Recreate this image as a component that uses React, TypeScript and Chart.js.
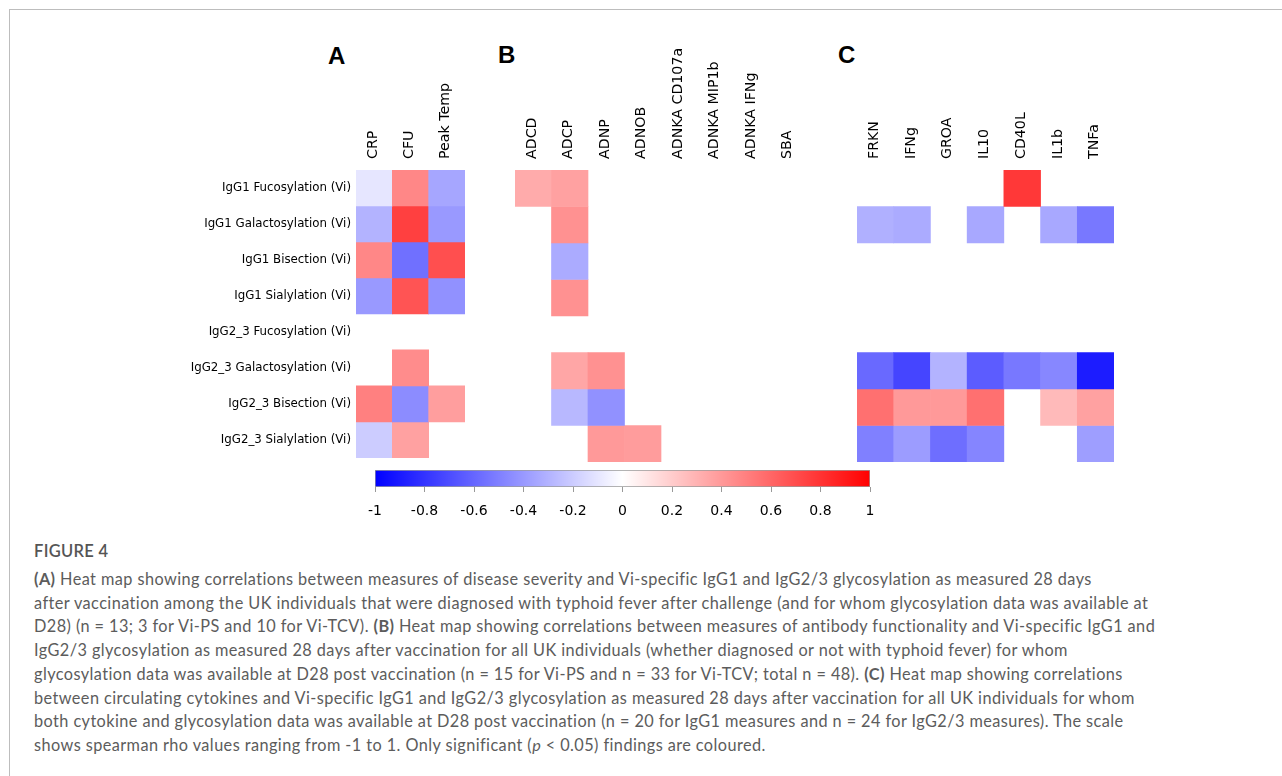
import React, { useEffect, useRef } from "react";
import { Chart, registerables } from "chart.js";

Chart.register(...registerables);

// ---------------- DATA ----------------
const rowLabels = [
  "IgG1 Fucosylation (Vi)",
  "IgG1 Galactosylation (Vi)",
  "IgG1 Bisection (Vi)",
  "IgG1 Sialylation (Vi)",
  "IgG2_3 Fucosylation (Vi)",
  "IgG2_3 Galactosylation (Vi)",
  "IgG2_3 Bisection (Vi)",
  "IgG2_3 Sialylation (Vi)",
];

const colsA = ["CRP", "CFU", "Peak Temp"];
const colsB = ["ADCD", "ADCP", "ADNP", "ADNOB", "ADNKA CD107a", "ADNKA MIP1b", "ADNKA IFNg", "SBA"];
const colsC = ["FRKN", "IFNg", "GROA", "IL10", "CD40L", "IL1b", "TNFa"];

const N = null;
// Spearman rho (null = not significant)
const rhoA: (number | null)[][] = [
  [-0.1, 0.47, -0.35],
  [-0.3, 0.75, -0.4],
  [0.47, -0.56, 0.69],
  [-0.4, 0.67, -0.43],
  [N, N, N],
  [N, 0.45, N],
  [0.5, -0.45, 0.38],
  [-0.2, 0.37, N],
];

const rhoB: (number | null)[][] = [
  [0.33, 0.37, N, N, N, N, N, N],
  [N, 0.43, N, N, N, N, N, N],
  [N, -0.33, N, N, N, N, N, N],
  [N, 0.43, N, N, N, N, N, N],
  [N, N, N, N, N, N, N, N],
  [N, 0.35, 0.43, N, N, N, N, N],
  [N, -0.28, -0.43, N, N, N, N, N],
  [N, N, 0.4, 0.39, N, N, N, N],
];

const rhoC: (number | null)[][] = [
  [N, N, N, N, 0.78, N, N],
  [-0.31, -0.33, N, -0.34, N, -0.34, -0.53],
  [N, N, N, N, N, N, N],
  [N, N, N, N, N, N, N],
  [N, N, N, N, N, N, N],
  [-0.59, -0.73, -0.3, -0.64, -0.53, -0.47, -0.89],
  [0.56, 0.4, 0.4, 0.56, N, 0.27, 0.37],
  [-0.5, -0.39, -0.57, -0.48, N, N, -0.38],
];

const colorbarTicks = [-1, -0.8, -0.6, -0.4, -0.2, 0, 0.2, 0.4, 0.6, 0.8, 1];
const colorbarRange = [-1, 1];

const captionTitle = "FIGURE 4";

// ---------------- HELPERS ----------------
function bwr(v: number | null): string {
  if (v === null || v === undefined) return "rgba(255,255,255,0)";
  const c = Math.max(-1, Math.min(1, v));
  if (c < 0) {
    const t = Math.round(255 * (1 + c));
    return `rgb(${t},${t},255)`;
  }
  const t = Math.round(255 * (1 - c));
  return `rgb(255,${t},${t})`;
}

type Box = { left: number; top: number; width: number; height: number };
type Area = { left: number; right: number; top: number; bottom: number };

const labelFont = "'DejaVu Sans', 'Liberation Sans', sans-serif";

function Heatmap({ cols, rho, showRows, box, area }: { cols: string[]; rho: (number | null)[][]; showRows: boolean; box: Box; area: Area }) {
  const ref = useRef<HTMLCanvasElement | null>(null);
  useEffect(() => {
    if (!ref.current) return;
    const yWidth = showRows ? area.left - box.left : 0;
    const padLeft = showRows ? 0 : area.left - box.left;
    const padRight = box.left + box.width - area.right;
    const xHeight = area.top - box.top;
    const padBottom = box.top + box.height - area.bottom;
    const datasets = rowLabels.map((r, i) => ({
      label: r,
      data: cols.map(() => 1),
      rho: rho[i],
      backgroundColor: cols.map((_, j) => bwr(rho[i][j])),
      borderWidth: 0,
      barPercentage: 1,
      categoryPercentage: 1,
    }));
    const chart = new Chart(ref.current, {
      type: "bar",
      data: { labels: cols, datasets: datasets as any },
      options: {
        animation: false,
        responsive: false,
        maintainAspectRatio: false,
        layout: { padding: { left: padLeft, right: padRight, top: 0, bottom: padBottom } },
        plugins: { legend: { display: false }, tooltip: { enabled: false } },
        scales: {
          x: {
            position: "top",
            stacked: true,
            grid: { display: false, drawTicks: false },
            border: { display: false },
            ticks: {
              autoSkip: false,
              minRotation: 90,
              maxRotation: 90,
              padding: 11,
              labelOffset: 16,
              color: "#000",
              font: { family: labelFont, size: 14.2 },
            },
            afterFit: (s: any) => {
              s.height = xHeight;
            },
          },
          y: {
            display: showRows,
            stacked: true,
            min: 0,
            max: rowLabels.length,
            reverse: true,
            grid: { display: false, drawTicks: false },
            border: { display: false },
            afterBuildTicks: (ax: any) => {
              ax.ticks = rowLabels.map((_, i) => ({ value: i + 0.5 }));
            },
            ticks: {
              autoSkip: false,
              padding: 5,
              color: "#000",
              font: { family: labelFont, size: 11.8 },
              callback: (_v: any, i: number) => rowLabels[i],
            },
            afterFit: (s: any) => {
              s.width = yWidth;
            },
          },
        },
      } as any,
    });
    return () => chart.destroy();
  }, []);
  return (
    <canvas
      ref={ref}
      width={box.width}
      height={box.height}
      style={{ position: "absolute", left: box.left, top: box.top, width: box.width, height: box.height }}
    />
  );
}

function Colorbar({ box, area }: { box: Box; area: Area }) {
  const ref = useRef<HTMLCanvasElement | null>(null);
  useEffect(() => {
    if (!ref.current) return;
    const chart = new Chart(ref.current, {
      type: "bar",
      data: {
        labels: ["rho"],
        datasets: [
          {
            data: [colorbarRange as any],
            backgroundColor: (ctx: any) => {
              const ch = ctx.chart;
              const xs = ch.scales.x;
              if (!xs || !ch.chartArea) return "#fff";
              const x0 = xs.getPixelForValue(colorbarRange[0]);
              const x1 = xs.getPixelForValue(colorbarRange[1]);
              const g = ch.ctx.createLinearGradient(x0, 0, x1, 0);
              g.addColorStop(0, bwr(colorbarRange[0]));
              g.addColorStop(0.5, "#ffffff");
              g.addColorStop(1, bwr(colorbarRange[1]));
              return g;
            },
            borderColor: "#9a9a9a",
            borderWidth: 1,
            borderSkipped: false,
            barPercentage: 1,
            categoryPercentage: 1,
          } as any,
        ],
      },
      options: {
        indexAxis: "y",
        animation: false,
        responsive: false,
        maintainAspectRatio: false,
        layout: {
          padding: {
            left: area.left - box.left,
            right: box.left + box.width - area.right,
            top: area.top - box.top,
            bottom: 0,
          },
        },
        plugins: { legend: { display: false }, tooltip: { enabled: false } },
        scales: {
          x: {
            min: colorbarRange[0],
            max: colorbarRange[1],
            position: "bottom",
            grid: { drawOnChartArea: false, drawTicks: true, tickLength: 5, color: "#999" },
            border: { display: false },
            afterBuildTicks: (ax: any) => {
              ax.ticks = colorbarTicks.map((v) => ({ value: v }));
            },
            ticks: {
              autoSkip: false,
              maxRotation: 0,
              padding: 11,
              color: "#000",
              font: { family: labelFont, size: 14 },
              callback: (v: any) => String(Math.round(Number(v) * 10) / 10),
            },
            afterFit: (s: any) => {
              s.height = box.top + box.height - area.bottom;
            },
          },
          y: { display: false },
        },
      } as any,
    });
    return () => chart.destroy();
  }, []);
  return (
    <canvas
      ref={ref}
      width={box.width}
      height={box.height}
      style={{ position: "absolute", left: box.left, top: box.top, width: box.width, height: box.height }}
    />
  );
}

const captionLines: React.ReactNode[] = [
  <><b>(A)</b> Heat map showing correlations between measures of disease severity and Vi-specific IgG1 and IgG2/3 glycosylation as measured 28 days</>,
  <>after vaccination among the UK individuals that were diagnosed with typhoid fever after challenge (and for whom glycosylation data was available at</>,
  <>D28) (n = 13; 3 for Vi-PS and 10 for Vi-TCV). <b>(B)</b> Heat map showing correlations between measures of antibody functionality and Vi-specific IgG1 and</>,
  <>IgG2/3 glycosylation as measured 28 days after vaccination for all UK individuals (whether diagnosed or not with typhoid fever) for whom</>,
  <>glycosylation data was available at D28 post vaccination (n = 15 for Vi-PS and n = 33 for Vi-TCV; total n = 48). <b>(C)</b> Heat map showing correlations</>,
  <>between circulating cytokines and Vi-specific IgG1 and IgG2/3 glycosylation as measured 28 days after vaccination for all UK individuals for whom</>,
  <>both cytokine and glycosylation data was available at D28 post vaccination (n = 20 for IgG1 measures and n = 24 for IgG2/3 measures). The scale</>,
  <>shows spearman rho values ranging from -1 to 1. Only significant (<i>p</i> &lt; 0.05) findings are coloured.</>,
];

const letterStyle: React.CSSProperties = {
  position: "absolute",
  fontFamily: "'Liberation Sans', Arial, sans-serif",
  fontWeight: "bold",
  fontSize: 24,
  lineHeight: "24px",
  color: "#000",
  margin: 0,
};

export default function App() {
  const rowsTop = 170;
  const rowsBottom = 462;
  return (
    <div style={{ position: "absolute", left: 0, top: 0, width: 1282, height: 776, overflow: "hidden", background: "#fff" }}>
      <div
        style={{
          position: "absolute",
          left: 9,
          top: 9,
          width: 1300,
          height: 800,
          borderLeft: "1px solid #bdbdbd",
          borderTop: "1px solid #bdbdbd",
        }}
      />
      <div style={{ ...letterStyle, left: 328, top: 44 }}>A</div>
      <div style={{ ...letterStyle, left: 498, top: 43 }}>B</div>
      <div style={{ ...letterStyle, left: 838, top: 43 }}>C</div>

      <Heatmap
        cols={colsA}
        rho={rhoA}
        showRows={true}
        box={{ left: 180, top: 40, width: 300, height: 430 }}
        area={{ left: 356, right: 465, top: rowsTop, bottom: rowsBottom }}
      />
      <Heatmap
        cols={colsB}
        rho={rhoB}
        showRows={false}
        box={{ left: 490, top: 40, width: 330, height: 430 }}
        area={{ left: 515, right: 807, top: rowsTop, bottom: rowsBottom }}
      />
      <Heatmap
        cols={colsC}
        rho={rhoC}
        showRows={false}
        box={{ left: 840, top: 40, width: 290, height: 430 }}
        area={{ left: 857, right: 1114, top: rowsTop, bottom: rowsBottom }}
      />
      <Colorbar box={{ left: 355, top: 460, width: 540, height: 64 }} area={{ left: 375, right: 870, top: 470, bottom: 487 }} />

      <div
        style={{
          position: "absolute",
          left: 34,
          top: 539,
          fontFamily: "Lato, 'Open Sans', sans-serif",
          fontSize: 16.5,
          color: "#555",
          fontWeight: 600,
          lineHeight: "24px",
          letterSpacing: "0.3px",
        }}
      >
        {captionTitle}
      </div>
      <div
        style={{
          position: "absolute",
          left: 34,
          top: 567,
          fontFamily: "Lato, 'Open Sans', sans-serif",
          fontSize: 16.3,
          color: "#5c5c5c",
          lineHeight: "23.7px",
          letterSpacing: "0.42px",
          whiteSpace: "nowrap",
        }}
      >
        {captionLines.map((l, i) => (
          <div key={i}>{l}</div>
        ))}
      </div>
    </div>
  );
}
